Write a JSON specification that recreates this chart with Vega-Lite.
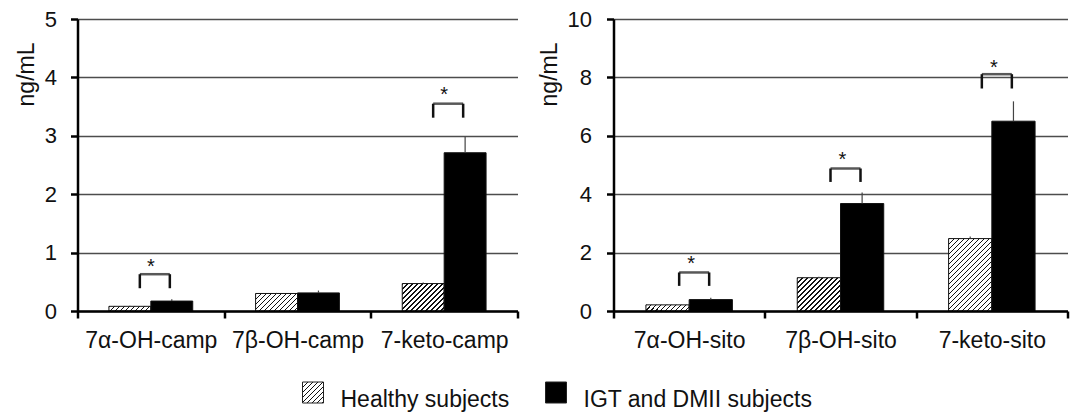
{
"$schema": "https://vega.github.io/schema/vega-lite/v6.json",
"background": "white",
"padding": {"left": 15.5, "top": 8, "right": 3, "bottom": 3},
"config": {"font": "Liberation Sans", "view": {"stroke": null}},
"datasets": {
"bars": [
{"panel":"camp","cat":"7α-OH-camp","group":"Healthy subjects","mean":0.08,"upper":0.09},
{"panel":"camp","cat":"7α-OH-camp","group":"IGT and DMII subjects","mean":0.17,"upper":0.2},
{"panel":"camp","cat":"7β-OH-camp","group":"Healthy subjects","mean":0.3,"upper":0.31},
{"panel":"camp","cat":"7β-OH-camp","group":"IGT and DMII subjects","mean":0.31,"upper":0.35},
{"panel":"camp","cat":"7-keto-camp","group":"Healthy subjects","mean":0.47,"upper":0.49},
{"panel":"camp","cat":"7-keto-camp","group":"IGT and DMII subjects","mean":2.71,"upper":2.99},
{"panel":"sito","cat":"7α-OH-sito","group":"Healthy subjects","mean":0.21,"upper":0.23},
{"panel":"sito","cat":"7α-OH-sito","group":"IGT and DMII subjects","mean":0.39,"upper":0.45},
{"panel":"sito","cat":"7β-OH-sito","group":"Healthy subjects","mean":1.14,"upper":1.17},
{"panel":"sito","cat":"7β-OH-sito","group":"IGT and DMII subjects","mean":3.68,"upper":4.06},
{"panel":"sito","cat":"7-keto-sito","group":"Healthy subjects","mean":2.48,"upper":2.55},
{"panel":"sito","cat":"7-keto-sito","group":"IGT and DMII subjects","mean":6.5,"upper":7.18}
],
"brackets": [
{"panel":"camp","cat":"7α-OH-camp","top":0.63,"low":0.39,"star":0.84},
{"panel":"camp","cat":"7-keto-camp","top":3.55,"low":3.31,"star":3.78},
{"panel":"sito","cat":"7α-OH-sito","top":1.32,"low":0.86,"star":1.77},
{"panel":"sito","cat":"7β-OH-sito","top":4.88,"low":4.42,"star":5.34},
{"panel":"sito","cat":"7-keto-sito","top":8.11,"low":7.62,"star":8.5}
],
"legend": [
{"group":"Healthy subjects"},
{"group":"IGT and DMII subjects"}
]
},
"spacing": 27.5,
"vconcat": [
{
"spacing": 19,
"resolve": {"scale": {"x": "independent", "y": "independent", "xOffset": "independent"}},
"hconcat": [
{
"width": 440, "height": 292,
"layer": [
{"data": {"name": "bars"}, "transform": [{"filter": "datum.panel === 'camp'"}],
 "mark": {"type": "bar", "stroke": "#111", "strokeWidth": 1},
 "encoding": {
  "x": {"field": "cat", "type": "nominal", "scale": {"domain": ["7α-OH-camp","7β-OH-camp","7-keto-camp"], "paddingInner": 0, "paddingOuter": 0},
        "axis": {"title": null, "labelAngle": 0, "labelFontSize": 23, "labelColor": "#111", "domainColor": "#000", "domainWidth": 2.5, "tickColor": "#000", "tickWidth": 2.5, "tickSize": 7, "tickBand": "extent", "labelPadding": 11, "grid": false, "zindex": 1}},
  "xOffset": {"field": "group", "type": "nominal", "scale": {"domain": ["Healthy subjects","IGT and DMII subjects"], "paddingInner": 0, "paddingOuter": 0.75}},
  "y": {"field": "mean", "type": "quantitative", "scale": {"domain": [0, 5], "nice": false},
        "axis": {"title": "ng/mL", "values": [0,1,2,3,4,5], "format": "d", "titleFontSize": 23, "titleFontWeight": "normal", "titleColor": "#111", "titleX": -44, "titleY": 23, "titleAlign": "right", "titleBaseline": "alphabetic", "titleAngle": 270, "labelFontSize": 22, "labelColor": "#111", "labelPadding": 14, "tickSize": 7, "tickColor": "#000", "tickWidth": 2.5, "domainColor": "#000", "domainWidth": 2.5, "grid": true, "gridColor": "#4d4d4d", "gridWidth": 1.3}},
  "fill": {"value": "#000000",
   "condition": [
    {"test": "datum.group === 'Healthy subjects' && datum.cat === '7α-OH-camp'", "value": {"gradient":"linear","x1":0,"y1":0,"x2":1.0986,"y2":0.1235,"stops":[
{"offset":0,"color":"#111"},{"offset":0.0258,"color":"#111"},{"offset":0.0258,"color":"#fff"},{"offset":0.1075,"color":"#fff"},
{"offset":0.1075,"color":"#111"},{"offset":0.1333,"color":"#111"},{"offset":0.1333,"color":"#fff"},{"offset":0.2151,"color":"#fff"},
{"offset":0.2151,"color":"#111"},{"offset":0.2409,"color":"#111"},{"offset":0.2409,"color":"#fff"},{"offset":0.3226,"color":"#fff"},
{"offset":0.3226,"color":"#111"},{"offset":0.3484,"color":"#111"},{"offset":0.3484,"color":"#fff"},{"offset":0.4301,"color":"#fff"},
{"offset":0.4301,"color":"#111"},{"offset":0.4559,"color":"#111"},{"offset":0.4559,"color":"#fff"},{"offset":0.5376,"color":"#fff"},
{"offset":0.5376,"color":"#111"},{"offset":0.5634,"color":"#111"},{"offset":0.5634,"color":"#fff"},{"offset":0.6452,"color":"#fff"},
{"offset":0.6452,"color":"#111"},{"offset":0.671,"color":"#111"},{"offset":0.671,"color":"#fff"},{"offset":0.7527,"color":"#fff"},
{"offset":0.7527,"color":"#111"},{"offset":0.7785,"color":"#111"},{"offset":0.7785,"color":"#fff"},{"offset":0.8602,"color":"#fff"},
{"offset":0.8602,"color":"#111"},{"offset":0.886,"color":"#111"},{"offset":0.886,"color":"#fff"},{"offset":0.9677,"color":"#fff"},
{"offset":0.9677,"color":"#111"},{"offset":0.9935,"color":"#111"},{"offset":0.9935,"color":"#fff"},{"offset":1,"color":"#fff"}]}},
    {"test": "datum.group === 'Healthy subjects' && datum.cat === '7β-OH-camp'", "value": {"gradient":"linear","x1":0,"y1":0,"x2":1.2071,"y2":0.5053,"stops":[
{"offset":0,"color":"#111"},{"offset":0.0202,"color":"#111"},{"offset":0.0202,"color":"#fff"},{"offset":0.0843,"color":"#fff"},
{"offset":0.0843,"color":"#111"},{"offset":0.1046,"color":"#111"},{"offset":0.1046,"color":"#fff"},{"offset":0.1686,"color":"#fff"},
{"offset":0.1686,"color":"#111"},{"offset":0.1889,"color":"#111"},{"offset":0.1889,"color":"#fff"},{"offset":0.253,"color":"#fff"},
{"offset":0.253,"color":"#111"},{"offset":0.2732,"color":"#111"},{"offset":0.2732,"color":"#fff"},{"offset":0.3373,"color":"#fff"},
{"offset":0.3373,"color":"#111"},{"offset":0.3575,"color":"#111"},{"offset":0.3575,"color":"#fff"},{"offset":0.4216,"color":"#fff"},
{"offset":0.4216,"color":"#111"},{"offset":0.4418,"color":"#111"},{"offset":0.4418,"color":"#fff"},{"offset":0.5059,"color":"#fff"},
{"offset":0.5059,"color":"#111"},{"offset":0.5262,"color":"#111"},{"offset":0.5262,"color":"#fff"},{"offset":0.5902,"color":"#fff"},
{"offset":0.5902,"color":"#111"},{"offset":0.6105,"color":"#111"},{"offset":0.6105,"color":"#fff"},{"offset":0.6745,"color":"#fff"},
{"offset":0.6745,"color":"#111"},{"offset":0.6948,"color":"#111"},{"offset":0.6948,"color":"#fff"},{"offset":0.7589,"color":"#fff"},
{"offset":0.7589,"color":"#111"},{"offset":0.7791,"color":"#111"},{"offset":0.7791,"color":"#fff"},{"offset":0.8432,"color":"#fff"},
{"offset":0.8432,"color":"#111"},{"offset":0.8634,"color":"#111"},{"offset":0.8634,"color":"#fff"},{"offset":0.9275,"color":"#fff"},
{"offset":0.9275,"color":"#111"},{"offset":0.9477,"color":"#111"},{"offset":0.9477,"color":"#fff"},{"offset":1,"color":"#fff"}]}},
    {"test": "datum.group === 'Healthy subjects' && datum.cat === '7-keto-camp'", "value": {"gradient":"linear","x1":0,"y1":0,"x2":1.158,"y2":0.759,"stops":[
{"offset":0,"color":"#111"},{"offset":0.0173,"color":"#111"},{"offset":0.0173,"color":"#fff"},{"offset":0.0723,"color":"#fff"},
{"offset":0.0723,"color":"#111"},{"offset":0.0896,"color":"#111"},{"offset":0.0896,"color":"#fff"},{"offset":0.1445,"color":"#fff"},
{"offset":0.1445,"color":"#111"},{"offset":0.1618,"color":"#111"},{"offset":0.1618,"color":"#fff"},{"offset":0.2168,"color":"#fff"},
{"offset":0.2168,"color":"#111"},{"offset":0.2341,"color":"#111"},{"offset":0.2341,"color":"#fff"},{"offset":0.289,"color":"#fff"},
{"offset":0.289,"color":"#111"},{"offset":0.3064,"color":"#111"},{"offset":0.3064,"color":"#fff"},{"offset":0.3613,"color":"#fff"},
{"offset":0.3613,"color":"#111"},{"offset":0.3786,"color":"#111"},{"offset":0.3786,"color":"#fff"},{"offset":0.4335,"color":"#fff"},
{"offset":0.4335,"color":"#111"},{"offset":0.4509,"color":"#111"},{"offset":0.4509,"color":"#fff"},{"offset":0.5058,"color":"#fff"},
{"offset":0.5058,"color":"#111"},{"offset":0.5231,"color":"#111"},{"offset":0.5231,"color":"#fff"},{"offset":0.578,"color":"#fff"},
{"offset":0.578,"color":"#111"},{"offset":0.5954,"color":"#111"},{"offset":0.5954,"color":"#fff"},{"offset":0.6503,"color":"#fff"},
{"offset":0.6503,"color":"#111"},{"offset":0.6676,"color":"#111"},{"offset":0.6676,"color":"#fff"},{"offset":0.7225,"color":"#fff"},
{"offset":0.7225,"color":"#111"},{"offset":0.7399,"color":"#111"},{"offset":0.7399,"color":"#fff"},{"offset":0.7948,"color":"#fff"},
{"offset":0.7948,"color":"#111"},{"offset":0.8121,"color":"#111"},{"offset":0.8121,"color":"#fff"},{"offset":0.8671,"color":"#fff"},
{"offset":0.8671,"color":"#111"},{"offset":0.8844,"color":"#111"},{"offset":0.8844,"color":"#fff"},{"offset":0.9393,"color":"#fff"},
{"offset":0.9393,"color":"#111"},{"offset":0.9566,"color":"#111"},{"offset":0.9566,"color":"#fff"},{"offset":1,"color":"#fff"}]}}
   ]}
 }},
{"data": {"name": "bars"}, "transform": [{"filter": "datum.panel === 'camp'"}],
 "mark": {"type": "rule", "color": "#444", "strokeWidth": 1.2},
 "encoding": {
  "x": {"field": "cat", "type": "nominal"},
  "xOffset": {"field": "group", "type": "nominal"},
  "y": {"field": "mean", "type": "quantitative"},
  "y2": {"field": "upper"}
 }},
{"data": {"name": "brackets"}, "transform": [{"filter": "datum.panel === 'camp'"}],
 "mark": {"type": "tick", "color": "#111", "thickness": 2.5, "size": 30, "xOffset": 4},
 "encoding": {"x": {"field": "cat", "type": "nominal"}, "y": {"field": "top", "type": "quantitative"}}},
{"data": {"name": "brackets"}, "transform": [{"filter": "datum.panel === 'camp'"}],
 "mark": {"type": "rule", "color": "#111", "strokeWidth": 2.5, "xOffset": -11},
 "encoding": {"x": {"field": "cat", "type": "nominal"}, "y": {"field": "low", "type": "quantitative"}, "y2": {"field": "top"}}},
{"data": {"name": "brackets"}, "transform": [{"filter": "datum.panel === 'camp'"}],
 "mark": {"type": "rule", "color": "#111", "strokeWidth": 2.5, "xOffset": 19},
 "encoding": {"x": {"field": "cat", "type": "nominal"}, "y": {"field": "low", "type": "quantitative"}, "y2": {"field": "top"}}},
{"data": {"name": "brackets"}, "transform": [{"filter": "datum.panel === 'camp'"}],
 "mark": {"type": "text", "text": "*", "fontSize": 20, "baseline": "alphabetic", "dy": 11, "color": "#111"},
 "encoding": {"x": {"field": "cat", "type": "nominal"}, "y": {"field": "star", "type": "quantitative"}}}
]
},
{
"width": 454, "height": 292,
"layer": [
{"data": {"name": "bars"}, "transform": [{"filter": "datum.panel === 'sito'"}],
 "mark": {"type": "bar", "stroke": "#111", "strokeWidth": 1},
 "encoding": {
  "x": {"field": "cat", "type": "nominal", "scale": {"domain": ["7α-OH-sito","7β-OH-sito","7-keto-sito"], "paddingInner": 0, "paddingOuter": 0},
        "axis": {"title": null, "labelAngle": 0, "labelFontSize": 23, "labelColor": "#111", "domainColor": "#000", "domainWidth": 2.5, "tickColor": "#000", "tickWidth": 2.5, "tickSize": 7, "tickBand": "extent", "labelPadding": 11, "grid": false, "zindex": 1}},
  "xOffset": {"field": "group", "type": "nominal", "scale": {"domain": ["Healthy subjects","IGT and DMII subjects"], "paddingInner": 0, "paddingOuter": 0.75}},
  "y": {"field": "mean", "type": "quantitative", "scale": {"domain": [0, 10], "nice": false},
        "axis": {"title": "ng/mL", "values": [0,2,4,6,8,10], "format": "d", "titleFontSize": 23, "titleFontWeight": "normal", "titleColor": "#111", "titleX": -57, "titleY": 23, "titleAlign": "right", "titleBaseline": "alphabetic", "titleAngle": 270, "labelFontSize": 22, "labelColor": "#111", "labelPadding": 15, "tickSize": 7, "tickColor": "#000", "tickWidth": 2.5, "domainColor": "#000", "domainWidth": 2.5, "grid": true, "gridColor": "#4d4d4d", "gridWidth": 1.3}},
  "fill": {"value": "#000000",
   "condition": [
    {"test": "datum.group === 'Healthy subjects' && datum.cat === '7α-OH-sito'", "value": {"gradient":"linear","x1":0,"y1":0,"x2":1.1187,"y2":0.1576,"stops":[
{"offset":0,"color":"#111"},{"offset":0.0243,"color":"#111"},{"offset":0.0243,"color":"#fff"},{"offset":0.1012,"color":"#fff"},
{"offset":0.1012,"color":"#111"},{"offset":0.1255,"color":"#111"},{"offset":0.1255,"color":"#fff"},{"offset":0.2024,"color":"#fff"},
{"offset":0.2024,"color":"#111"},{"offset":0.2267,"color":"#111"},{"offset":0.2267,"color":"#fff"},{"offset":0.3036,"color":"#fff"},
{"offset":0.3036,"color":"#111"},{"offset":0.3279,"color":"#111"},{"offset":0.3279,"color":"#fff"},{"offset":0.4049,"color":"#fff"},
{"offset":0.4049,"color":"#111"},{"offset":0.4291,"color":"#111"},{"offset":0.4291,"color":"#fff"},{"offset":0.5061,"color":"#fff"},
{"offset":0.5061,"color":"#111"},{"offset":0.5304,"color":"#111"},{"offset":0.5304,"color":"#fff"},{"offset":0.6073,"color":"#fff"},
{"offset":0.6073,"color":"#111"},{"offset":0.6316,"color":"#111"},{"offset":0.6316,"color":"#fff"},{"offset":0.7085,"color":"#fff"},
{"offset":0.7085,"color":"#111"},{"offset":0.7328,"color":"#111"},{"offset":0.7328,"color":"#fff"},{"offset":0.8097,"color":"#fff"},
{"offset":0.8097,"color":"#111"},{"offset":0.834,"color":"#111"},{"offset":0.834,"color":"#fff"},{"offset":0.9109,"color":"#fff"},
{"offset":0.9109,"color":"#111"},{"offset":0.9352,"color":"#111"},{"offset":0.9352,"color":"#fff"},{"offset":1,"color":"#fff"}]}},
    {"test": "datum.group === 'Healthy subjects' && datum.cat === '7β-OH-sito'", "value": {"gradient":"linear","x1":0,"y1":0,"x2":1.1116,"y2":0.8549,"stops":[
{"offset":0,"color":"#111"},{"offset":0.0157,"color":"#111"},{"offset":0.0157,"color":"#fff"},{"offset":0.0653,"color":"#fff"},
{"offset":0.0653,"color":"#111"},{"offset":0.0809,"color":"#111"},{"offset":0.0809,"color":"#fff"},{"offset":0.1305,"color":"#fff"},
{"offset":0.1305,"color":"#111"},{"offset":0.1462,"color":"#111"},{"offset":0.1462,"color":"#fff"},{"offset":0.1958,"color":"#fff"},
{"offset":0.1958,"color":"#111"},{"offset":0.2115,"color":"#111"},{"offset":0.2115,"color":"#fff"},{"offset":0.2611,"color":"#fff"},
{"offset":0.2611,"color":"#111"},{"offset":0.2768,"color":"#111"},{"offset":0.2768,"color":"#fff"},{"offset":0.3264,"color":"#fff"},
{"offset":0.3264,"color":"#111"},{"offset":0.342,"color":"#111"},{"offset":0.342,"color":"#fff"},{"offset":0.3916,"color":"#fff"},
{"offset":0.3916,"color":"#111"},{"offset":0.4073,"color":"#111"},{"offset":0.4073,"color":"#fff"},{"offset":0.4569,"color":"#fff"},
{"offset":0.4569,"color":"#111"},{"offset":0.4726,"color":"#111"},{"offset":0.4726,"color":"#fff"},{"offset":0.5222,"color":"#fff"},
{"offset":0.5222,"color":"#111"},{"offset":0.5379,"color":"#111"},{"offset":0.5379,"color":"#fff"},{"offset":0.5875,"color":"#fff"},
{"offset":0.5875,"color":"#111"},{"offset":0.6031,"color":"#111"},{"offset":0.6031,"color":"#fff"},{"offset":0.6527,"color":"#fff"},
{"offset":0.6527,"color":"#111"},{"offset":0.6684,"color":"#111"},{"offset":0.6684,"color":"#fff"},{"offset":0.718,"color":"#fff"},
{"offset":0.718,"color":"#111"},{"offset":0.7337,"color":"#111"},{"offset":0.7337,"color":"#fff"},{"offset":0.7833,"color":"#fff"},
{"offset":0.7833,"color":"#111"},{"offset":0.799,"color":"#111"},{"offset":0.799,"color":"#fff"},{"offset":0.8486,"color":"#fff"},
{"offset":0.8486,"color":"#111"},{"offset":0.8642,"color":"#111"},{"offset":0.8642,"color":"#fff"},{"offset":0.9138,"color":"#fff"},
{"offset":0.9138,"color":"#111"},{"offset":0.9295,"color":"#111"},{"offset":0.9295,"color":"#fff"},{"offset":0.9791,"color":"#fff"},
{"offset":0.9791,"color":"#111"},{"offset":0.9948,"color":"#111"},{"offset":0.9948,"color":"#fff"},{"offset":1,"color":"#fff"}]}},
    {"test": "datum.group === 'Healthy subjects' && datum.cat === '7-keto-sito'", "value": {"gradient":"linear","x1":0,"y1":0,"x2":0.704,"y2":1.1771,"stops":[
{"offset":0,"color":"#111"},{"offset":0.0104,"color":"#111"},{"offset":0.0104,"color":"#fff"},{"offset":0.0432,"color":"#fff"},
{"offset":0.0432,"color":"#111"},{"offset":0.0536,"color":"#111"},{"offset":0.0536,"color":"#fff"},{"offset":0.0864,"color":"#fff"},
{"offset":0.0864,"color":"#111"},{"offset":0.0968,"color":"#111"},{"offset":0.0968,"color":"#fff"},{"offset":0.1296,"color":"#fff"},
{"offset":0.1296,"color":"#111"},{"offset":0.14,"color":"#111"},{"offset":0.14,"color":"#fff"},{"offset":0.1729,"color":"#fff"},
{"offset":0.1729,"color":"#111"},{"offset":0.1832,"color":"#111"},{"offset":0.1832,"color":"#fff"},{"offset":0.2161,"color":"#fff"},
{"offset":0.2161,"color":"#111"},{"offset":0.2264,"color":"#111"},{"offset":0.2264,"color":"#fff"},{"offset":0.2593,"color":"#fff"},
{"offset":0.2593,"color":"#111"},{"offset":0.2697,"color":"#111"},{"offset":0.2697,"color":"#fff"},{"offset":0.3025,"color":"#fff"},
{"offset":0.3025,"color":"#111"},{"offset":0.3129,"color":"#111"},{"offset":0.3129,"color":"#fff"},{"offset":0.3457,"color":"#fff"},
{"offset":0.3457,"color":"#111"},{"offset":0.3561,"color":"#111"},{"offset":0.3561,"color":"#fff"},{"offset":0.389,"color":"#fff"},
{"offset":0.389,"color":"#111"},{"offset":0.3993,"color":"#111"},{"offset":0.3993,"color":"#fff"},{"offset":0.4322,"color":"#fff"},
{"offset":0.4322,"color":"#111"},{"offset":0.4425,"color":"#111"},{"offset":0.4425,"color":"#fff"},{"offset":0.4754,"color":"#fff"},
{"offset":0.4754,"color":"#111"},{"offset":0.4858,"color":"#111"},{"offset":0.4858,"color":"#fff"},{"offset":0.5186,"color":"#fff"},
{"offset":0.5186,"color":"#111"},{"offset":0.529,"color":"#111"},{"offset":0.529,"color":"#fff"},{"offset":0.5618,"color":"#fff"},
{"offset":0.5618,"color":"#111"},{"offset":0.5722,"color":"#111"},{"offset":0.5722,"color":"#fff"},{"offset":0.605,"color":"#fff"},
{"offset":0.605,"color":"#111"},{"offset":0.6154,"color":"#111"},{"offset":0.6154,"color":"#fff"},{"offset":0.6483,"color":"#fff"},
{"offset":0.6483,"color":"#111"},{"offset":0.6586,"color":"#111"},{"offset":0.6586,"color":"#fff"},{"offset":0.6915,"color":"#fff"},
{"offset":0.6915,"color":"#111"},{"offset":0.7018,"color":"#111"},{"offset":0.7018,"color":"#fff"},{"offset":0.7347,"color":"#fff"},
{"offset":0.7347,"color":"#111"},{"offset":0.7451,"color":"#111"},{"offset":0.7451,"color":"#fff"},{"offset":0.7779,"color":"#fff"},
{"offset":0.7779,"color":"#111"},{"offset":0.7883,"color":"#111"},{"offset":0.7883,"color":"#fff"},{"offset":0.8211,"color":"#fff"},
{"offset":0.8211,"color":"#111"},{"offset":0.8315,"color":"#111"},{"offset":0.8315,"color":"#fff"},{"offset":0.8643,"color":"#fff"},
{"offset":0.8643,"color":"#111"},{"offset":0.8747,"color":"#111"},{"offset":0.8747,"color":"#fff"},{"offset":0.9076,"color":"#fff"},
{"offset":0.9076,"color":"#111"},{"offset":0.9179,"color":"#111"},{"offset":0.9179,"color":"#fff"},{"offset":0.9508,"color":"#fff"},
{"offset":0.9508,"color":"#111"},{"offset":0.9611,"color":"#111"},{"offset":0.9611,"color":"#fff"},{"offset":1,"color":"#fff"}]}}
   ]}
 }},
{"data": {"name": "bars"}, "transform": [{"filter": "datum.panel === 'sito'"}],
 "mark": {"type": "rule", "color": "#444", "strokeWidth": 1.2},
 "encoding": {
  "x": {"field": "cat", "type": "nominal"},
  "xOffset": {"field": "group", "type": "nominal"},
  "y": {"field": "mean", "type": "quantitative"},
  "y2": {"field": "upper"}
 }},
{"data": {"name": "brackets"}, "transform": [{"filter": "datum.panel === 'sito'"}],
 "mark": {"type": "tick", "color": "#111", "thickness": 2.5, "size": 30, "xOffset": 5},
 "encoding": {"x": {"field": "cat", "type": "nominal"}, "y": {"field": "top", "type": "quantitative"}}},
{"data": {"name": "brackets"}, "transform": [{"filter": "datum.panel === 'sito'"}],
 "mark": {"type": "rule", "color": "#111", "strokeWidth": 2.5, "xOffset": -10},
 "encoding": {"x": {"field": "cat", "type": "nominal"}, "y": {"field": "low", "type": "quantitative"}, "y2": {"field": "top"}}},
{"data": {"name": "brackets"}, "transform": [{"filter": "datum.panel === 'sito'"}],
 "mark": {"type": "rule", "color": "#111", "strokeWidth": 2.5, "xOffset": 20},
 "encoding": {"x": {"field": "cat", "type": "nominal"}, "y": {"field": "low", "type": "quantitative"}, "y2": {"field": "top"}}},
{"data": {"name": "brackets"}, "transform": [{"filter": "datum.panel === 'sito'"}],
 "mark": {"type": "text", "text": "*", "fontSize": 20, "baseline": "alphabetic", "dy": 11, "dx": 2, "color": "#111"},
 "encoding": {"x": {"field": "cat", "type": "nominal"}, "y": {"field": "star", "type": "quantitative"}}}
]
}
]
},
{
"width": 800, "height": 22,
"data": {"name": "legend"},
"encoding": {
 "x": {"field": "group", "type": "nominal", "bandPosition": 0, "axis": null,
       "scale": {"type": "band", "domain": ["Healthy subjects","IGT and DMII subjects"], "range": [225, 711], "paddingInner": 0, "paddingOuter": 0}}
},
"layer": [
{"mark": {"type": "square", "size": 441, "filled": true, "stroke": "#222", "strokeWidth": 1, "xOffset": 10.5, "opacity": 1},
 "encoding": {"fill": {"value": "#000000", "condition": {"test": "datum.group === 'Healthy subjects'", "value": {"gradient":"linear","x1":0,"y1":0,"x2":1,"y2":1,"stops":[
{"offset":0,"color":"#111"},{"offset":0.0286,"color":"#111"},{"offset":0.0286,"color":"#fff"},{"offset":0.119,"color":"#fff"},
{"offset":0.119,"color":"#111"},{"offset":0.1476,"color":"#111"},{"offset":0.1476,"color":"#fff"},{"offset":0.2381,"color":"#fff"},
{"offset":0.2381,"color":"#111"},{"offset":0.2667,"color":"#111"},{"offset":0.2667,"color":"#fff"},{"offset":0.3571,"color":"#fff"},
{"offset":0.3571,"color":"#111"},{"offset":0.3857,"color":"#111"},{"offset":0.3857,"color":"#fff"},{"offset":0.4762,"color":"#fff"},
{"offset":0.4762,"color":"#111"},{"offset":0.5048,"color":"#111"},{"offset":0.5048,"color":"#fff"},{"offset":0.5952,"color":"#fff"},
{"offset":0.5952,"color":"#111"},{"offset":0.6238,"color":"#111"},{"offset":0.6238,"color":"#fff"},{"offset":0.7143,"color":"#fff"},
{"offset":0.7143,"color":"#111"},{"offset":0.7429,"color":"#111"},{"offset":0.7429,"color":"#fff"},{"offset":0.8333,"color":"#fff"},
{"offset":0.8333,"color":"#111"},{"offset":0.8619,"color":"#111"},{"offset":0.8619,"color":"#fff"},{"offset":0.9524,"color":"#fff"},
{"offset":0.9524,"color":"#111"},{"offset":0.981,"color":"#111"},{"offset":0.981,"color":"#fff"},{"offset":1,"color":"#fff"}]}}}}},
{"mark": {"type": "text", "fontSize": 23, "align": "left", "baseline": "alphabetic", "dx": 38, "dy": 14.5, "color": "#111"},
 "encoding": {"text": {"field": "group"}}}
]
}
]
}
